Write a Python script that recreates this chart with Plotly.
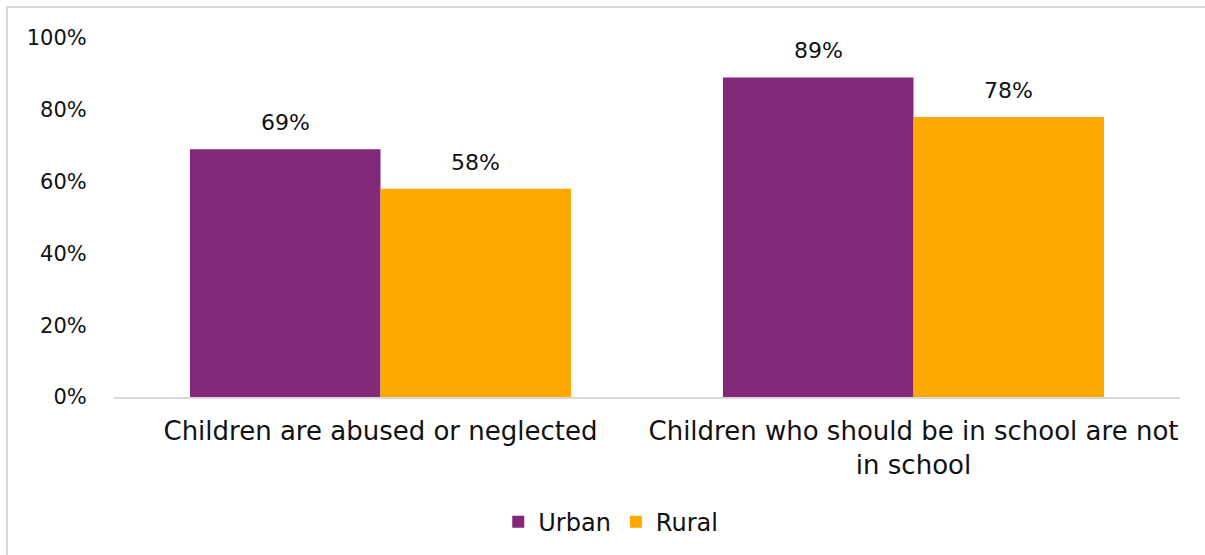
import plotly.graph_objects as go

categories = ["Children are abused or neglected",
              "Children who should be in school are not<br>in school"]
urban = [69, 89]
rural = [58, 78]
series_names = ["Urban", "Rural"]
colors = ["#832878", "#FFA800"]
tick_vals = [0, 20, 40, 60, 80, 100]
tick_text = ["0%", "20%", "40%", "60%", "80%", "100%"]

FONT = "DejaVu Sans"
fig = go.Figure()
for name, vals, col in zip(series_names, [urban, rural], colors):
    fig.add_trace(go.Bar(name=name, x=categories, y=vals, marker_color=col,
                         marker_line_width=0))

# value labels above each bar
bar_off = 95
for vals, shift in [(urban, -bar_off), (rural, bar_off)]:
    for c, v in zip(categories, vals):
        fig.add_annotation(x=c, y=v, text=f"{v}%", showarrow=False,
                           xshift=shift, yshift=12, yanchor="bottom",
                           font=dict(family=FONT, size=22, color="#111111"))

# outer frame (top and left edges visible)
fig.add_shape(type="rect", xref="paper", yref="paper",
              x0=-0.1004, x1=1.2, y0=-0.6, y1=1.0861,
              line=dict(color="#D9D9D9", width=2), layer="below")

fig.update_layout(
    width=1205, height=555,
    margin=dict(l=114, r=25, t=38, b=157),
    paper_bgcolor="white", plot_bgcolor="white",
    barmode="group", bargap=0.285, bargroupgap=0,
    font=dict(family=FONT, size=21, color="#111111"),
    showlegend=True,
    legend=dict(orientation="h", x=0.466, xanchor="center", y=-0.345,
                yanchor="middle", font=dict(family=FONT, size=24),
                itemwidth=30, traceorder="normal"),
    xaxis=dict(showline=True, linecolor="#D9D9D9", linewidth=2,
               ticks="", ticklabelstandoff=10,
               tickfont=dict(family=FONT, size=26)),
    yaxis=dict(range=[0, 100], tickvals=tick_vals, ticktext=tick_text,
               showgrid=False, zeroline=False, showline=False,
               ticks="outside", ticklen=22, tickcolor="rgba(0,0,0,0)",
               tickfont=dict(family=FONT, size=21)),
)
fig.write_html("out.html")
